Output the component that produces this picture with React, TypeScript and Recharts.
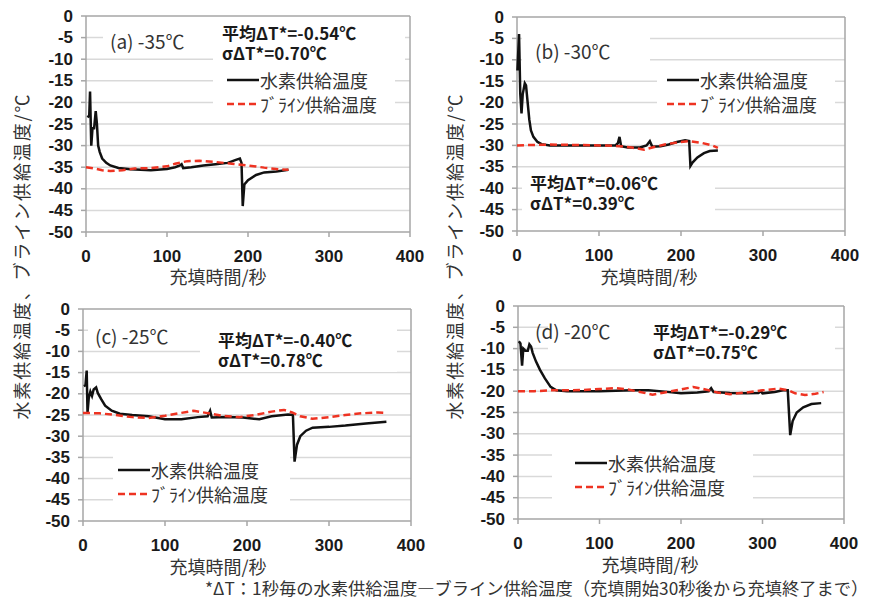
import React from "react";
import { LineChart, Line, XAxis, YAxis, ReferenceLine } from "recharts";

const FONT = '"Noto Sans CJK JP", "Noto Sans", sans-serif';
const TICK_FONT = '"Liberation Sans", Arial, sans-serif';
const H2_COLOR = "#111111";
const BRINE_COLOR = "#EE3322";
const GRID = "#d9d9d9";
const AXIS = "#a6a6a6";

const X_TICKS = [0, 100, 200, 300, 400];
const Y_TICKS = [0, -5, -10, -15, -20, -25, -30, -35, -40, -45, -50];
const H2_NAME = "水素供給温度";
const BRINE_NAME = "ﾌﾞﾗｲﾝ供給温度";
const Y_TITLE = "水素供給温度、ブライン供給温度/℃";
const X_TITLE = "充填時間/秒";
const NOTE = "*ΔT：1秒毎の水素供給温度―ブライン供給温度（充填開始30秒後から充填終了まで）";

// (a) -35℃
const aH2Time = [2, 4, 5, 6.5, 8, 10, 12, 13.5, 15, 17, 20, 25, 30, 40, 55, 80, 100, 110, 116, 118, 120, 130, 145, 160, 175, 185, 190, 192, 193.5, 195.5, 200, 210, 220, 235, 250];
const aH2Temp = [-23.5, -23, -17.5, -30, -26, -26, -22, -25, -30, -31.5, -33, -34, -34.6, -35.2, -35.5, -35.7, -35.4, -35.0, -34.6, -34.3, -35.2, -35.0, -34.6, -34.3, -34.0, -33.3, -33.0, -34, -44, -39, -38, -36.8, -36.2, -36, -35.6];
const aBrineTime = [0, 10, 20, 30, 45, 60, 80, 100, 110, 125, 140, 160, 180, 200, 220, 240, 250];
const aBrineTemp = [-35, -35.3, -35.7, -35.9, -35.7, -35.3, -35.2, -34.8, -34.2, -33.6, -33.5, -33.8, -34.2, -34.6, -35.1, -35.5, -35.6];

// (b) -30℃
const bH2Time = [0.5, 2.5, 4, 5.5, 7, 9.5, 11, 13, 15, 17, 20, 25, 30, 40, 60, 100, 120, 123, 125, 127, 135, 150, 158, 162, 165, 175, 185, 195, 205, 210, 211.5, 214, 220, 228, 235, 245];
const bH2Temp = [-12.5, -4, -18, -22.5, -18, -15.5, -16, -20, -24, -26.5, -28, -29.2, -29.7, -30, -30, -30, -30, -29.5, -28, -30.2, -30.5, -30.5, -30, -29, -30.3, -30.2, -29.8, -29.2, -28.8, -29, -34.8, -34, -32.8, -31.8, -31.3, -31.2];
const bBrineTime = [0, 20, 40, 70, 100, 120, 140, 155, 165, 180, 195, 210, 225, 238, 245];
const bBrineTemp = [-30, -29.9, -29.8, -29.9, -30, -30.1, -30.5, -31, -30.5, -29.8, -29.3, -29, -29.4, -30.0, -30.6];

// (c) -25℃
const cH2Time = [1, 3, 4.5, 5.5, 7, 9, 11, 13, 16, 18, 22, 27, 35, 45, 60, 80, 100, 120, 140, 152, 155, 157, 175, 195, 215, 230, 250, 256, 258, 261, 265, 272, 280, 300, 320, 345, 370];
const cH2Temp = [-18.2, -18, -14.5, -24.5, -21, -19.5, -20.5, -19, -18.5, -19.8, -21.2, -22.8, -24, -24.7, -25, -25.3, -26, -26, -25.5, -25.3, -24, -25.6, -25.5, -25.6, -26, -25.3, -24.9, -25, -36, -32, -30, -28.7, -28, -27.8, -27.5, -27, -26.6];
const cBrineTime = [0, 20, 40, 60, 80, 100, 120, 135, 150, 170, 190, 210, 230, 245, 255, 265, 280, 300, 320, 340, 360, 370];
const cBrineTemp = [-24.5, -24.6, -25, -25.5, -25.7, -25.2, -24.5, -24, -24.5, -25.2, -25.5, -25, -24.2, -23.8, -24.4, -25.3, -25.9, -25.5, -25, -24.6, -24.4, -24.5];

// (d) -20℃
const dH2Time = [1, 3, 5, 6.5, 9, 12, 14, 16, 18, 22, 27, 33, 40, 47, 60, 100, 140, 160, 180, 200, 220, 234, 237, 240, 260, 280, 295, 298, 300, 315, 325, 331, 334, 337, 342, 350, 360, 372];
const dH2Temp = [-8.3, -8.8, -14, -10, -10.5, -10.5, -9, -9.5, -11, -13, -15, -17, -19, -19.8, -20, -20, -19.8, -19.8, -20.1, -20.5, -20.3, -20, -19.3, -20.2, -20.4, -20.5, -20.4, -20, -20.5, -20.2, -19.8, -19.8, -30.3, -27, -25, -23.8, -23, -22.8];
const dBrineTime = [0, 20, 40, 60, 80, 100, 120, 135, 150, 165, 180, 200, 215, 230, 245, 260, 280, 300, 320, 332, 340, 352, 365, 375];
const dBrineTemp = [-20, -20, -19.8, -19.8, -19.7, -19.5, -19.3, -19.6, -20.2, -20.8, -20.3, -19.6, -19, -19.6, -20.3, -20.7, -20.3, -19.8, -19.4, -19.8, -20.5, -20.9, -20.6, -20.2];

const toPoints = (t: number[], v: number[]) => t.map((x, i) => ({ t: x, v: v[i] }));

type Box = { x: number; y: number; w: number; h: number };

interface PanelProps {
  left: number;
  top: number;
  width: number;
  height: number;
  plotTop: number;
  plotLeft: number;
  plotRight: number;
  xAxisHeight: number;
  h2: { t: number; v: number }[];
  brine: { t: number; v: number }[];
  title: string;
  titlePos: [number, number];
  titleBox: Box;
  stats: [string, string];
  statsPos: [number, number];
  statsBox: Box;
  legendPos: [number, number];
  legendBox: Box;
  xTitlePos: [number, number];
}

const WhiteBox = ({ b }: { b: Box }) => (
  <div
    style={{
      position: "absolute",
      left: b.x,
      top: b.y,
      width: b.w,
      height: b.h,
      background: "#fff",
    }}
  />
);

// y is the centre of the first line
const TextAt = ({
  x,
  y,
  size,
  bold,
  center,
  lineGap,
  children,
}: {
  x: number;
  y: number;
  size: number;
  bold?: boolean;
  center?: boolean;
  lineGap?: number;
  children: React.ReactNode;
}) => {
  const lh = lineGap ?? size;
  return (
    <div
      style={{
        position: "absolute",
        left: x,
        top: y - lh / 2,
        transform: center ? "translateX(-50%)" : undefined,
        fontSize: size,
        lineHeight: `${lh}px`,
        fontWeight: bold ? 700 : 400,
        color: bold ? "#1a1a1a" : "#333",
        whiteSpace: "nowrap",
        fontFamily: FONT,
      }}
    >
      {children}
    </div>
  );
};

const YTick = (props: any) => (
  <text
    x={props.x}
    y={props.y}
    textAnchor="end"
    dominantBaseline="central"
    fontSize={17}
    fontWeight={700}
    fill="#1a1a1a"
    fontFamily={TICK_FONT}
  >
    {props.payload.value}
  </text>
);

const XTick = (props: any) => (
  <text
    x={props.x}
    y={props.y}
    dy="0.71em"
    textAnchor="middle"
    fontSize={17}
    fontWeight={700}
    fill="#1a1a1a"
    fontFamily={TICK_FONT}
  >
    {props.payload.value}
  </text>
);

const Panel = (p: PanelProps) => {
  const [lx, ly] = p.legendPos;
  const plotBottom = p.height - p.xAxisHeight;
  return (
    <div
      style={{
        position: "absolute",
        left: p.left,
        top: p.top,
        width: p.width,
        height: p.height,
      }}
    >
      {/* axes and gridlines */}
      <LineChart
        width={p.width}
        height={p.height}
        data={p.h2}
        margin={{ top: p.plotTop, right: p.width - p.plotRight, left: 0, bottom: 0 }}
      >
        <XAxis
          type="number"
          dataKey="t"
          domain={[0, 400]}
          ticks={X_TICKS}
          interval={0}
          height={p.xAxisHeight}
          stroke={AXIS}
          strokeWidth={1.5}
          tickSize={5}
          tickMargin={13}
          tick={XTick}
        />
        <YAxis
          type="number"
          dataKey="v"
          domain={[-50, 0]}
          ticks={Y_TICKS}
          interval={0}
          width={p.plotLeft}
          stroke={AXIS}
          strokeWidth={1.5}
          tickSize={5}
          tickMargin={8}
          tick={YTick}
        />
        {Y_TICKS.filter((v) => v !== 0 && v !== -50).map((v) => (
          <ReferenceLine key={v} y={v} stroke={GRID} strokeWidth={1.5} />
        ))}
        <ReferenceLine y={0} stroke={AXIS} strokeWidth={1.5} />
        <ReferenceLine x={400} stroke={AXIS} strokeWidth={1.5} />
      </LineChart>

      <WhiteBox b={p.titleBox} />
      <WhiteBox b={p.statsBox} />
      <WhiteBox b={p.legendBox} />

      {/* series drawn above the text backgrounds */}
      <div style={{ position: "absolute", left: 0, top: 0 }}>
        <LineChart
          width={p.width}
          height={p.height}
          margin={{
            top: p.plotTop,
            right: p.width - p.plotRight,
            left: p.plotLeft,
            bottom: p.height - plotBottom,
          }}
        >
          <XAxis hide type="number" dataKey="t" domain={[0, 400]} />
          <YAxis hide type="number" dataKey="v" domain={[-50, 0]} />
          <Line
            data={p.h2}
            dataKey="v"
            name={H2_NAME}
            type="linear"
            stroke={H2_COLOR}
            strokeWidth={2.5}
            dot={false}
            isAnimationActive={false}
          />
          <Line
            data={p.brine}
            dataKey="v"
            name={BRINE_NAME}
            type="linear"
            stroke={BRINE_COLOR}
            strokeWidth={2.5}
            strokeDasharray="7 4"
            dot={false}
            isAnimationActive={false}
          />
        </LineChart>
      </div>

      <TextAt x={p.titlePos[0]} y={p.titlePos[1]} size={19}>
        {p.title}
      </TextAt>
      <TextAt x={p.statsPos[0]} y={p.statsPos[1]} size={17} bold lineGap={20}>
        {p.stats[0]}
        <br />
        {p.stats[1]}
      </TextAt>

      <svg
        style={{ position: "absolute", left: lx, top: ly - 5, overflow: "visible" }}
        width={34}
        height={36}
      >
        <line x1={0} x2={32} y1={5} y2={5} stroke={H2_COLOR} strokeWidth={2.5} />
        <line x1={0} x2={32} y1={29} y2={29} stroke={BRINE_COLOR} strokeWidth={2.5} strokeDasharray="7 4" />
      </svg>
      <TextAt x={lx + 33} y={ly} size={18} lineGap={24}>
        {H2_NAME}
        <br />
        {BRINE_NAME}
      </TextAt>

      <TextAt x={p.xTitlePos[0]} y={p.xTitlePos[1]} size={18} center>
        {X_TITLE}
      </TextAt>
    </div>
  );
};

export default function App() {
  return (
    <div
      style={{
        position: "absolute",
        left: 0,
        top: 0,
        width: 871,
        height: 603,
        background: "#fff",
        fontFamily: FONT,
        overflow: "hidden",
      }}
    >
      <svg style={{ position: "absolute", left: 0, top: 0 }} width={871} height={603}>
        {[21, 454].map((x) => (
          <text
            key={x}
            x={0}
            y={0}
            transform={`translate(${x}, 257) rotate(-90)`}
            textAnchor="middle"
            dominantBaseline="central"
            fontSize={18}
            fill="#333"
            fontFamily={FONT}
            textLength={325}
            lengthAdjust="spacing"
          >
            {Y_TITLE}
          </text>
        ))}
      </svg>

      <Panel
        left={0}
        top={0}
        width={430}
        height={290}
        plotTop={16}
        plotLeft={86}
        plotRight={410}
        xAxisHeight={58}
        h2={toPoints(aH2Time, aH2Temp)}
        brine={toPoints(aBrineTime, aBrineTemp)}
        title="(a) -35℃"
        titlePos={[110, 40]}
        titleBox={{ x: 103, y: 28, w: 110, h: 22 }}
        stats={["平均ΔT*=-0.54℃", "σΔT*=0.70℃"]}
        statsPos={[222, 33]}
        statsBox={{ x: 213, y: 22, w: 192, h: 42 }}
        legendPos={[227, 80]}
        legendBox={{ x: 213, y: 68, w: 182, h: 46 }}
        xTitlePos={[218, 276]}
      />
      <Panel
        left={430}
        top={0}
        width={441}
        height={290}
        plotTop={17}
        plotLeft={87}
        plotRight={415}
        xAxisHeight={59}
        h2={toPoints(bH2Time, bH2Temp)}
        brine={toPoints(bBrineTime, bBrineTemp)}
        title="(b) -30℃"
        titlePos={[105, 50]}
        titleBox={{ x: 92, y: 28, w: 128, h: 42 }}
        stats={["平均ΔT*=0.06℃", "σΔT*=0.39℃"]}
        statsPos={[100, 183]}
        statsBox={{ x: 92, y: 172, w: 193, h: 43 }}
        legendPos={[237, 80]}
        legendBox={{ x: 227, y: 68, w: 178, h: 47 }}
        xTitlePos={[219, 276]}
      />
      <Panel
        left={0}
        top={290}
        width={430}
        height={313}
        plotTop={19}
        plotLeft={83}
        plotRight={411}
        xAxisHeight={82}
        h2={toPoints(cH2Time, cH2Temp)}
        brine={toPoints(cBrineTime, cBrineTemp)}
        title="(c) -25℃"
        titlePos={[95, 45]}
        titleBox={{ x: 88, y: 30, w: 112, h: 22 }}
        stats={["平均ΔT*=-0.40℃", "σΔT*=0.78℃"]}
        statsPos={[218, 50]}
        statsBox={{ x: 200, y: 28, w: 197, h: 54 }}
        legendPos={[118, 180]}
        legendBox={{ x: 113, y: 165, w: 177, h: 52 }}
        xTitlePos={[218, 276]}
      />
      <Panel
        left={430}
        top={290}
        width={441}
        height={313}
        plotTop={16}
        plotLeft={88}
        plotRight={414}
        xAxisHeight={84}
        h2={toPoints(dH2Time, dH2Temp)}
        brine={toPoints(dBrineTime, dBrineTemp)}
        title="(d) -20℃"
        titlePos={[105, 40]}
        titleBox={{ x: 118, y: 28, w: 104, h: 44 }}
        stats={["平均ΔT*=-0.29℃", "σΔT*=0.75℃"]}
        statsPos={[223, 42]}
        statsBox={{ x: 222, y: 28, w: 183, h: 50 }}
        legendPos={[145, 173]}
        legendBox={{ x: 122, y: 158, w: 201, h: 57 }}
        xTitlePos={[220, 274]}
      />

      <TextAt x={205} y={588} size={17.3}>
        {NOTE}
      </TextAt>
    </div>
  );
}
